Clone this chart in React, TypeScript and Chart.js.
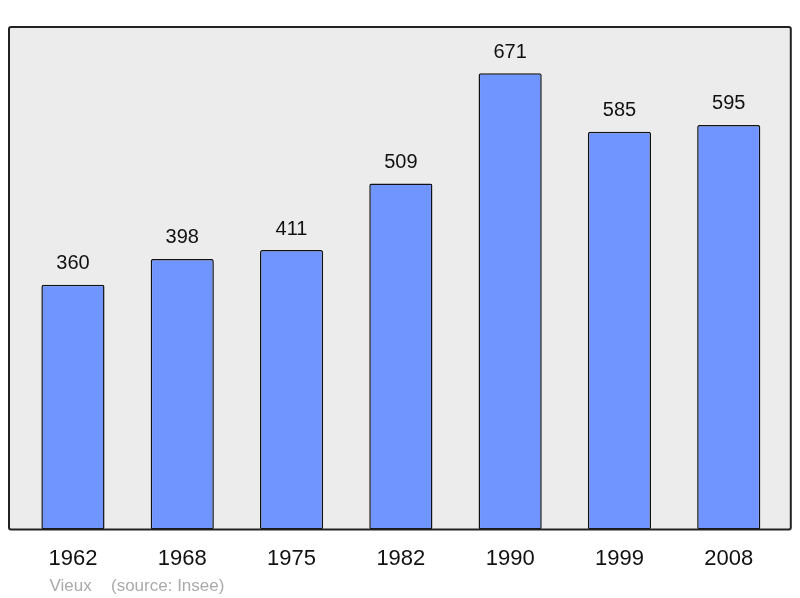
import React, { useEffect, useRef } from "react";
import { Chart, registerables } from "chart.js";

Chart.register(...registerables);

const years = ["1962", "1968", "1975", "1982", "1990", "1999", "2008"];
const population = [360, 398, 411, 509, 671, 585, 595];
const yMax = 739;
const communeName = "Vieux";
const sourceText = "(source: Insee)";

const FONT = "'Liberation Sans', Arial, sans-serif";

const framePlugin = {
  id: "frame",
  beforeDraw(chart: any) {
    const { ctx, chartArea } = chart;
    const l = chartArea.left - 9.3;
    const r = chartArea.right + 7.4;
    const t = chartArea.top;
    const b = chartArea.bottom;
    ctx.save();
    ctx.fillStyle = "#ececec";
    ctx.fillRect(l, t, r - l, b - t);
    ctx.restore();
  },
  afterDatasetsDraw(chart: any) {
    const { ctx, chartArea } = chart;
    const l = chartArea.left - 9.3;
    const r = chartArea.right + 7.4;
    const t = chartArea.top;
    const b = chartArea.bottom;
    ctx.save();
    ctx.strokeStyle = "#222";
    ctx.lineWidth = 2;
    ctx.beginPath();
    (ctx as any).roundRect(l, t, r - l, b - t, 2);
    ctx.stroke();
    // value labels
    const meta = chart.getDatasetMeta(0);
    ctx.fillStyle = "#111";
    ctx.font = `20px ${FONT}`;
    ctx.textAlign = "center";
    ctx.textBaseline = "alphabetic";
    meta.data.forEach((bar: any, i: number) => {
      ctx.fillText(String(population[i]), bar.x, bar.y - 15.5);
    });
    // footer
    ctx.fillStyle = "#aaaaaa";
    ctx.font = `17px ${FONT}`;
    ctx.textAlign = "left";
    ctx.fillText(communeName, 49.5, 590.5);
    ctx.fillText(sourceText, 111, 590.5);
    ctx.restore();
  },
};

export default function App() {
  const ref = useRef<HTMLCanvasElement>(null);
  useEffect(() => {
    if (!ref.current) return;
    const chart = new Chart(ref.current, {
      type: "bar",
      data: {
        labels: years,
        datasets: [
          {
            data: population,
            backgroundColor: "#7195ff",
            borderColor: "#111",
            borderWidth: 1.5,
            borderSkipped: false,
            borderRadius: 2,
            barPercentage: 0.578,
            categoryPercentage: 1,
          },
        ],
      },
      options: {
        responsive: false,
        animation: false,
        layout: { padding: { left: 18.3, right: 16.6, top: 27, bottom: 10 } },
        plugins: { legend: { display: false }, tooltip: { enabled: false } },
        scales: {
          x: {
            offset: true,
            grid: { display: false, drawTicks: false },
            border: { display: false },
            ticks: { color: "#111", font: { size: 22, family: FONT }, padding: 16 },
          },
          y: { display: false, min: 0, max: yMax },
        },
      },
      plugins: [framePlugin],
    });
    return () => chart.destroy();
  }, []);
  return (
    <div style={{ position: "absolute", left: 0, top: 0, width: 800, height: 598 }}>
      <canvas ref={ref} width={800} height={598} />
    </div>
  );
}
